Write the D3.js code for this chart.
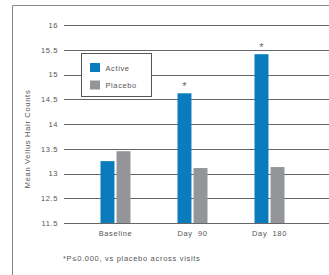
<!DOCTYPE html>
<html>
<head>
<meta charset="UTF-8">
<title></title>
<style>
  body { margin: 0; background: #fff; }
  svg { display: block; font-family: "Liberation Sans", Arial, sans-serif; }
  svg text { letter-spacing: 0.6px; }
  .axis path, .axis line { fill: none; stroke: none; }
  .axis text { font-size: 7.5px; fill: #555; }
  .grid line { stroke: #666; stroke-width: 1; shape-rendering: crispEdges; }
</style>
</head>
<body>
<script src="https://cdn.jsdelivr.net/npm/d3@7"></script>
<script>
// data
var categories = ["Baseline", "Day  90", "Day  180"];
var series = ["Active", "Placebo"];
var active = [13.25, 14.62, 15.41];
var placebo = [13.45, 13.11, 13.13];
var starred = [false, true, true];
// the bottom gridline is labelled 11.5 in the original (axis break)
var tickValues = [12, 12.5, 13, 13.5, 14, 14.5, 15, 15.5, 16];
var tickLabels = ["11.5", "12.5", "13", "13.5", "14", "14.5", "15", "15.5", "16"];
var colors = ["#0a7bbd", "#939598"];

var W = 329, H = 275;
var svg = d3.select("body").append("svg").attr("width", W).attr("height", H);

// frame (top and left only)
svg.append("path")
  .attr("d", "M12.5," + H + "V5.5H" + W)
  .attr("fill", "none").attr("stroke", "#888").attr("stroke-width", 1);

var y = d3.scaleLinear().domain([12, 16]).range([223, 25]);
var x = d3.scaleBand().domain(categories).range([77, 308]);
var xs = d3.scaleBand().domain(series).range([0, 30]).paddingInner(0.13);
var grid0 = 64;

// gridlines
svg.append("g").attr("class", "grid")
  .selectAll("line").data(tickValues).enter().append("line")
  .attr("x1", grid0).attr("x2", W)
  .attr("y1", function(d){ return Math.round(y(d)) + 0.5; })
  .attr("y2", function(d){ return Math.round(y(d)) + 0.5; });

// y axis labels
var yAxis = d3.axisLeft(y).tickValues(tickValues).tickSize(0).tickPadding(6)
  .tickFormat(function(d, i){ return tickLabels[i]; });
svg.append("g").attr("class", "axis")
  .attr("transform", "translate(" + grid0 + ",0)")
  .call(yAxis);

svg.append("text")
  .attr("transform", "translate(30,139) rotate(-90)")
  .attr("text-anchor", "middle")
  .attr("font-size", 7.5).attr("fill", "#555")
  .style("letter-spacing", "0.7px")
  .text("Mean Vellus Hair Counts");

// bars
var groups = svg.selectAll(".grp").data(categories).enter().append("g")
  .attr("transform", function(d){ return "translate(" + (x(d) + x.bandwidth() / 2 - 15) + ",0)"; });

groups.selectAll("rect")
  .data(function(d, i){ return [active[i], placebo[i]]; })
  .enter().append("rect")
  .attr("x", function(d, j){ return xs(series[j]); })
  .attr("width", xs.bandwidth())
  .attr("y", function(d){ return y(d); })
  .attr("height", function(d){ return y(12) - y(d); })
  .attr("fill", function(d, j){ return colors[j]; });

// asterisks
svg.selectAll(".star").data(categories.filter(function(d, i){ return starred[i]; }))
  .enter().append("text")
  .attr("x", function(d){ return x(d) + x.bandwidth() / 2 - 15 + xs("Active") + xs.bandwidth() / 2; })
  .attr("y", function(d){ return y(active[categories.indexOf(d)]) - 3; })
  .attr("text-anchor", "middle")
  .attr("font-size", 11).attr("fill", "#666")
  .style("letter-spacing", "0px")
  .text("*");

// x axis labels
var xAxis = d3.axisBottom(x).tickSize(0).tickPadding(8);
svg.append("g").attr("class", "axis")
  .attr("transform", "translate(0,223)")
  .call(xAxis)
  .selectAll("text").style("white-space", "pre").attr("xml:space", "preserve");

// legend
var lg = svg.append("g").attr("transform", "translate(81.5,53.5)");
lg.append("rect").attr("width", 70).attr("height", 43)
  .attr("fill", "#fff").attr("stroke", "#555").attr("stroke-width", 1);
series.forEach(function(s, i){
  lg.append("rect").attr("x", 8.5).attr("y", 9.5 + i * 17.5)
    .attr("width", 10).attr("height", 9).attr("fill", colors[i]);
  lg.append("text").attr("x", 24).attr("y", 17 + i * 17.5)
    .attr("font-size", 7.5).attr("fill", "#555").text(s);
});

// footnote
svg.append("text").attr("x", 63).attr("y", 261)
  .attr("font-size", 7.5).attr("fill", "#555")
  .style("letter-spacing", "0.7px")
  .text("*P\u22640.000, vs placebo across visits");
</script>
</body>
</html>
